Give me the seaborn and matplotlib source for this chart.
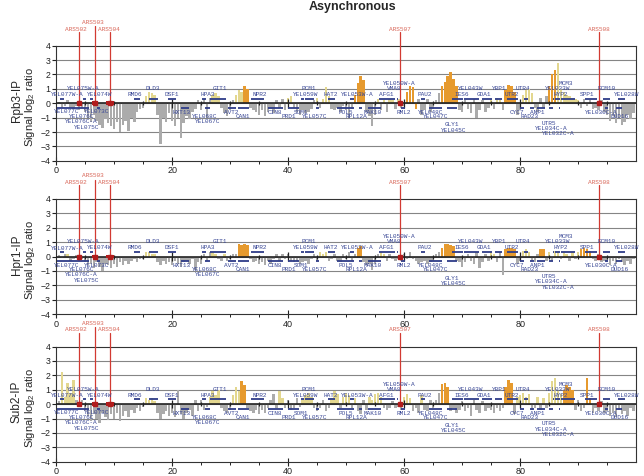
import numpy as np
import matplotlib
matplotlib.use("Agg")
import matplotlib.pyplot as plt
import seaborn as sns

# ChIP-chip tracks on chr V (kb), three IPs
sns.set_theme(style="white")
plt.rcParams['font.family'] = ['Liberation Sans', 'DejaVu Sans']
plt.rcParams['mathtext.default'] = 'regular'

probe_kb = np.arange(0, 100, 0.5)

rpb3 = [
    -0.2, 0.1, -0.3, -0.2, 0.2, -0.3, -0.4, -0.2, -0.5, -0.3,
    -0.6, -1.0, -1.3, -0.8, -1.2, -1.5, -1.7, -1.1, -1.4, -1.6,
    -1.8, -1.3, -2.0, -1.5, -1.2, -1.9, -1.0, -1.3, -0.6, -0.4,
    -0.3, 0.5, 0.8, 0.7, 0.6, -0.8, -2.8, -1.0, -1.3, -0.7,
    -1.2, -1.6, -1.0, -2.4, -1.4, -0.9, -1.1, -0.6, -0.4, 0.2,
    -0.5, 0.3, -1.0, 0.4, 0.6, 0.7, 0.5, -0.3, -0.7, -0.9,
    -0.5, 0.2, 0.6, 0.9, 0.8, 1.2, 1.0, -0.3, -0.5, -0.6,
    -0.8, -0.5, -0.9, -0.6, -0.4, -0.7, 0.2, -0.3, 0.3, -0.5,
    0.4, 0.5, -0.3, -0.6, -0.8, -0.5, -0.7, -0.6, -0.4, 0.2,
    0.4, -0.3, 0.3, 1.1, 0.5, -0.4, -0.5, -0.3, -0.6, -0.2,
    -0.5, -1.0, -0.4, 0.6, 1.4, 1.9, 1.6, -0.6, -0.9, -1.6,
    -0.8, 0.3, -0.5, 0.2, -0.6, 0.3, 0.2, -0.4, 0.3, -0.3,
    -0.2, 0.8, 1.2, 1.1, -0.4, 0.3, -0.8, -0.5, 0.3, -0.6,
    -0.4, 0.2, 0.7, 1.2, 1.5, 1.9, 2.2, 1.7, 1.2, -0.5,
    -0.6, 0.2, -0.4, -0.7, 0.3, -1.0, -0.5, 0.2, -0.6, -0.3,
    0.3, -0.4, 0.4, 0.2, -0.5, 0.9, 1.3, 1.2, 0.8, -0.8,
    -0.5, 0.6, 0.9, 1.0, 0.7, -0.3, -0.6, 0.4, -0.3, 0.5,
    1.2, 2.0, 2.3, 2.8, 1.0, 0.8, 0.6, 0.5, 0.4, 0.3,
    0.2, -0.3, 0.3, -0.2, 0.2, -0.4, -0.3, -0.5, 0.2, -0.6,
    -0.8, -1.2, -0.9, -1.4, -1.0, -1.5, -1.3, -0.8, -1.1, -0.7,
]
hpr1 = [
    -0.2, 0.1, -0.1, 0.2, 0.2, -0.3, -0.2, 0.1, -0.3, -0.2,
    -0.4, -0.6, -0.5, -0.8, -0.4, -0.7, -1.0, -0.5, -0.6, -0.8,
    -0.5, -0.7, -0.4, -0.6, -0.3, -0.5, -0.3, -0.2, -0.4, -0.2,
    -0.2, 0.3, 0.3, 0.2, 0.2, -0.4, -0.6, -0.3, -0.5, -0.4,
    -0.6, -0.3, -0.5, -0.7, -0.4, -0.3, -0.5, -0.2, -0.9, -0.4,
    -0.5, 0.2, -0.3, 0.3, 0.3, 0.2, -0.2, -0.3, 0.2, -0.3,
    -0.2, 0.2, 0.2, 0.85, 0.8, 0.85, 0.8, -0.2, -0.4, -0.3,
    -0.5, -0.4, -0.6, -0.3, -0.5, -0.2, 0.2, -0.3, 0.2, -0.2,
    0.2, -0.3, -0.4, -0.3, -0.5, -0.4, -0.3, -0.5, -0.2, 0.2,
    -0.3, 0.3, 0.2, 0.3, -0.3, -0.2, 0.2, -0.3, -0.4, 0.2,
    -0.2, 0.3, -0.3, 0.2, 0.6, 0.7, -0.4, -0.6, -0.5, -0.9,
    -0.5, 0.2, 0.3, 0.2, -0.3, 0.2, -0.2, -0.3, -0.2, -0.3,
    0.2, -0.2, 0.3, -0.2, -0.3, -0.5, -0.4, -0.3, -0.5, -0.4,
    -0.3, 0.2, 0.3, 0.6, 0.9, 0.85, 0.8, 0.7, -0.3, -0.4,
    -0.7, -0.4, 0.2, -0.3, -0.5, 0.3, -0.8, -0.4, 0.2, -0.3,
    0.3, 0.2, -0.4, 0.3, -1.3, 0.5, 0.6, 0.6, 0.5, -0.5,
    -0.3, 0.4, 0.5, 0.3, -0.3, -0.4, 0.2, 0.5, 0.5, -0.3,
    0.3, -0.3, 0.4, 0.3, -0.2, 0.3, 0.2, -0.3, 0.3, -0.2,
    0.3, 0.5, 0.6, 0.5, 0.4, -0.2, -0.3, 0.2, -0.4, -0.3,
    -0.4, -0.6, -0.3, -0.5, -0.2, -0.4, -0.6, -0.3, -0.5, -0.2,
]
sub2 = [
    0.1, 0.2, 2.2, 0.5, 1.5, 0.8, 1.7, 0.3, -0.2, 0.3,
    -0.5, -0.8, -1.2, -0.7, -1.0, -1.3, -0.6, -0.9, -1.1, -0.7,
    -1.0, -0.6, -1.2, -0.8, -0.5, -0.9, -0.4, -0.6, -0.3, -0.5,
    -0.2, 0.4, 0.3, 0.4, 0.2, -0.6, -1.0, -0.7, -0.5, -0.8,
    -0.6, -0.9, 1.0, -0.7, -1.0, -0.6, -0.4, -0.8, 0.3, -0.5,
    0.3, -0.4, -0.2, 0.5, 0.9, 0.6, 1.0, -0.3, -0.5, -0.6,
    -0.4, 0.6, 1.2, 0.9, 1.6, 1.3, -0.3, -0.5, -0.6, -0.4,
    -0.7, -0.4, -0.6, -0.3, 0.3, 0.7, -0.3, 0.9, 0.4, -0.3,
    0.3, -0.4, -0.3, 0.4, -0.2, 0.3, 0.6, 0.8, 0.5, -0.3,
    -0.5, -0.3, 0.3, -0.5, -0.3, 0.4, 0.9, 0.7, -0.3, 0.5,
    0.8, 0.6, -0.3, 0.4, -0.5, -0.7, 0.3, -0.4, 0.5, 0.3,
    0.7, 0.8, 0.5, -0.3, -0.4, -0.3, 0.2, -0.3, -0.2, -0.4,
    0.5, 0.7, 0.4, -0.5, -0.3, -0.6, 0.6, -0.4, -0.5, 0.3,
    -0.3, 0.3, 0.8, 1.4, 1.5, 1.2, -0.5, -0.3, -0.6, -0.4,
    0.2, -0.5, -0.3, -0.8, 0.3, -0.4, -0.6, 0.2, -0.5, -0.3,
    -0.4, -0.6, -0.3, -0.5, -0.3, 1.2, 1.7, 1.5, -0.7, 0.5,
    0.6, 0.8, 0.5, 0.7, -0.4, -0.3, 0.5, -0.4, 0.4, -0.3,
    0.8, 1.6, 1.8, 0.9, 0.7, 1.0, 1.3, 1.2, 1.0, -0.4,
    0.3, -0.5, -0.3, 1.8, 0.4, -0.6, -0.3, -0.5, 0.2, -0.6,
    -0.5, -0.8, -0.6, -0.9, -0.4, -0.7, -0.5, -0.8, -0.3, -0.5,
]

# enriched (orange) and weakly enriched (yellow) stretches, kb
rpb3_orange = [(32.3, 33.3), (51.3, 53.3), (60.3, 62), (66.3, 69.3), (77.3, 79.3), (84.8, 86.3)]
rpb3_yellow = [(15.3, 17.3), (27, 29.8), (31, 32.3), (40, 41.3), (45, 48.3), (55.3, 59),
               (75, 77.3), (80.3, 83), (86.3, 90.3)]
hpr1_orange = [(31.3, 33.3), (51.8, 52.8), (66.3, 68.8), (77.3, 79.3), (83.3, 84.3), (90.3, 92.3)]
hpr1_yellow = [(1.8, 2.3), (15.3, 17.3), (26.8, 29.3), (45.3, 47), (55.8, 57), (75, 76),
               (80.3, 82.3), (85, 90)]
sub2_orange = [(31.8, 32.8), (66.3, 67.8), (77.3, 78.8), (87.3, 89.3), (91.3, 92.3)]
sub2_yellow = [(0.8, 3.3), (15.3, 17.3), (26.3, 28.3), (30.3, 31.8), (37.8, 39.8), (42.3, 44.8),
               (47.3, 52), (53.8, 57.3), (59.8, 61.3), (62.8, 63.3), (79.3, 82.3), (82.8, 84.3),
               (84.8, 87.3)]

panel_names = ['Rpb3-IP', 'Hpr1-IP', 'Sub2-IP']

# ARS elements
ars_names = ['ARS502', 'ARS503', 'ARS504', 'ARS507', 'ARS508']
ars_kb = [4.0, 6.7, 9.3, 59.2, 93.6]
ars_boxes = [(6.2, 7.2), (8.6, 10.0)]

# genes: name, start, end, label kb, label row (+ Watson, - Crick)
genes = [
    ('YEL077W-A', 0.6, 1.3, 2.0, 0.58), ('YEL075W-A', 4.6, 5.2, 4.7, 1.04),
    ('YEL074W', 5.8, 6.4, 7.5, 0.62), ('RMD6', 13.5, 14.4, 13.6, 0.62),
    ('DLD3', 16.0, 17.6, 16.7, 1.02), ('DSF1', 19.3, 20.6, 20.0, 0.62),
    ('HPA3', 25.2, 25.8, 26.2, 0.62), ('GIT1', 26.6, 29.3, 28.3, 1.02),
    ('NPR2', 33.6, 35.9, 35.1, 0.62), ('YEL059W', 42.3, 42.8, 43.1, 0.62),
    ('PCM1', 42.9, 44.4, 43.6, 1.02), ('HAT2', 46.9, 48.1, 47.4, 0.62),
    ('YEL053W-A', 50.6, 51.3, 51.9, 0.62), ('AFG1', 55.7, 57.7, 56.9, 0.62),
    ('VMA8', 57.8, 58.5, 58.2, 1.02), ('YEL050W-A', 58.8, 59.0, 59.1, 1.39),
    ('PAU2', 62.9, 63.6, 63.6, 0.62), ('IES6', 68.3, 70.1, 69.9, 0.62),
    ('YEL043W', 70.3, 72.9, 71.4, 1.02), ('GDA1', 73.4, 75.1, 73.7, 0.62),
    ('YBP1', 75.7, 76.9, 76.3, 1.02), ('UTR2', 77.7, 79.7, 78.5, 0.62),
    ('UTR4', 80.6, 81.4, 80.4, 1.02), ('HYP2', 86.0, 86.8, 86.9, 0.62),
    ('YEL033W', 85.6, 85.9, 86.5, 1.02), ('MCM3', 87.0, 89.5, 87.9, 1.39),
    ('SPP1', 91.2, 93.2, 91.5, 0.62), ('ECM10', 94.3, 95.5, 94.9, 1.02),
    ('YEL028W', 96.9, 98.0, 98.3, 0.62),
    ('YEL077C', 0.1, 4.4, 1.8, -0.6), ('YEL073C', 7.1, 7.6, 7.0, -0.6),
    ('YEL076C', 4.4, 5.0, 4.4, -0.9), ('YEL076C-A', 5.0, 5.3, 4.4, -1.28),
    ('YEL075C', 5.3, 5.6, 5.2, -1.66), ('HXT13', 21.6, 23.0, 21.6, -0.62),
    ('YEL068C', 25.6, 26.0, 25.6, -0.9), ('YEL067C', 26.0, 26.5, 26.2, -1.28),
    ('AVT2', 29.6, 31.0, 30.2, -0.62), ('CAN1', 31.3, 33.3, 32.2, -0.9),
    ('CIN8', 36.5, 39.1, 37.8, -0.62), ('SOM1', 40.6, 41.9, 42.2, -0.62),
    ('PRD1', 39.9, 40.6, 40.1, -0.9), ('YEL057C', 44.8, 45.4, 44.6, -0.9),
    ('POL5', 48.4, 51.4, 49.9, -0.62), ('RPL12A', 52.2, 52.8, 51.7, -0.9),
    ('MAK10', 53.7, 56.0, 54.5, -0.62), ('RML2', 59.4, 60.2, 60.0, -0.62),
    ('YEL048C', 64.3, 65.0, 64.6, -0.62), ('YEL047C', 65.0, 66.5, 65.4, -0.9),
    ('GLY1', 67.4, 69.1, 68.3, -1.5), ('YEL045C', 0, 0, 68.6, -1.86),
    ('CYC7', 80.0, 80.6, 79.4, -0.62), ('RAD23', 81.6, 82.3, 81.6, -0.9),
    ('ANP1', 82.9, 84.3, 83.0, -0.62), ('UTR5', 84.9, 85.7, 84.9, -1.38),
    ('YEL034C-A', 0, 0, 85.3, -1.75), ('YEL032C-A', 86.6, 86.8, 86.5, -2.13),
    ('YEL030C-A', 94.6, 95.2, 93.9, -0.62), ('DUD16', 96.5, 97.5, 97.2, -0.9),
]

GRAY = '#ababab'
YELLOW = '#e3d78f'
ORANGE = '#e69a2e'
BLUE = '#3a4896'
RED = '#d23a32'
RED_TXT = '#d9685a'
MONO = 'Liberation Mono'


def bar_colors(vals, orange, yellow):
    cols = []
    for x, v in zip(probe_kb, vals):
        if any(a <= x <= b for a, b in orange):
            cols.append(ORANGE)
        elif v > 0 and any(a <= x <= b for a, b in yellow):
            cols.append(YELLOW)
        else:
            cols.append(GRAY)
    return cols


fig = plt.figure(figsize=(6.44, 4.76), dpi=100)
fig.text(0.547, 0.985, 'Asynchronous', ha='center', va='center', fontsize=9, fontweight='bold')

tracks = [(rpb3, rpb3_orange, rpb3_yellow), (hpr1, hpr1_orange, hpr1_yellow), (sub2, sub2_orange, sub2_yellow)]
bottoms = [0.662, 0.340, 0.030]
ars_label_dx = {'ARS502': -0.6, 'ARS503': -0.3, 'ARS504': -0.2, 'ARS507': 0, 'ARS508': 0}
ars_label_y = {'ARS502': 5.15, 'ARS503': 5.6, 'ARS504': 5.15, 'ARS507': 5.15, 'ARS508': 5.15}

for i, (vals, orange, yellow) in enumerate(tracks):
    ax = fig.add_axes([0.087, bottoms[i], 0.901, 0.242])
    ax.set_xlim(0, 100)
    ax.set_ylim(-4, 4)
    for yv in range(-3, 4):
        ax.axhline(yv, color='#858585', lw=0.8, zorder=1)
    ax.bar(probe_kb, vals, width=0.42, color=bar_colors(vals, orange, yellow), linewidth=0, zorder=2)
    ax.axhline(0, color='#222222', lw=1.2, zorder=3)
    # little ticks along the zero line
    for k in range(5, 100, 5):
        h = 0.3 if k % 20 == 0 else 0.14
        ax.vlines(k, -h, h, color='#222222', lw=0.9, zorder=3)

    # genes
    for name, s, e, lx, ly in genes:
        yb = 0.33 if ly > 0 else -0.33
        if e > s:
            ax.plot([s, e], [yb, yb], color='#2e3c88', lw=1.3, solid_capstyle='butt', zorder=4)
        ax.text(lx, ly, name, ha='center', va='center', fontsize=4.4, family=MONO,
                color=BLUE, zorder=6, clip_on=False)

    # ARS elements
    for s, e in ars_boxes:
        ax.fill_between([s, e], -0.13, 0.13, color='#b01c1c', lw=0, zorder=5)
    for name, k in zip(ars_names, ars_kb):
        top = 5.35 if name == 'ARS503' else 4.95
        ax.plot([k, k], [0, top], color=RED, lw=0.9, zorder=5, clip_on=False)
        ax.plot(k, 0, marker='s', ms=2.2, color='#b01c1c', zorder=5)
        ax.text(k + ars_label_dx[name], ars_label_y[name], name, ha='center', va='center',
                fontsize=4.4, family=MONO, color=RED_TXT, clip_on=False)

    ax.set_xticks([0, 20, 40, 60, 80])
    ax.set_xticks(range(5, 100, 5), minor=True)
    ax.set_yticks(range(-4, 5))
    ax.set_yticklabels([str(v).replace('-', '\u2212') for v in range(-4, 5)])
    ax.tick_params(axis='x', which='major', direction='inout', length=6, width=0.8,
                   labelsize=6.5, pad=1, bottom=True, colors='#222222')
    ax.tick_params(axis='x', which='minor', direction='out', length=2.5, width=0.7,
                   bottom=True, colors='#222222')
    ax.tick_params(axis='y', direction='out', length=3, width=0.8, labelsize=6.3, pad=1,
                   left=True, colors='#222222')
    for sp in ax.spines.values():
        sp.set_color('#333333')
        sp.set_linewidth(0.8)

    ax.text(-0.044, 0.47, 'Signal log$_2$ ratio', rotation=90, transform=ax.transAxes,
            ha='center', va='center', fontsize=8)
    ax.text(-0.068, 0.52, panel_names[i], rotation=90, transform=ax.transAxes,
            ha='center', va='center', fontsize=8.5)

fig.savefig('out.png', dpi=100)
